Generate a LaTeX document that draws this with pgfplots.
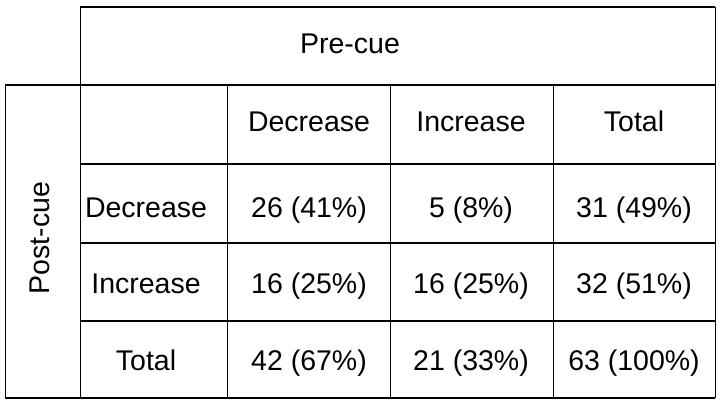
\documentclass[border=0pt]{standalone}
\usepackage{pgfplots}
\pgfplotsset{compat=1.18}
\usepackage{fontspec}
\setmainfont{Liberation Sans}
\begin{document}
\begin{tikzpicture}
\begin{axis}[
  width=720pt, height=408pt, scale only axis,
  xmin=0, xmax=720, ymin=0, ymax=408,
  hide axis, clip=false,
  every axis plot/.append style={black, no markers},
  nodes={font=\fontsize{28.5}{33}\selectfont, anchor=base, inner sep=0pt},
]
% invisible frame to fix the page size
\addplot[draw=none] coordinates {(0,0) (720,408)};
% horizontal rules
\addplot[line width=1.8pt] coordinates {(80,401) (715,401)};
\addplot[line width=1.8pt] coordinates {(5,323) (715,323)};
\addplot[line width=1.8pt] coordinates {(80,244) (715,244)};
\addplot[line width=1.8pt] coordinates {(80,165) (715,165)};
\addplot[line width=1.8pt] coordinates {(80,87) (715,87)};
\addplot[line width=2pt] coordinates {(5,10) (715,10)};
% vertical rules
\addplot[line width=1pt] coordinates {(5,323) (5,10)};
\addplot[line width=1pt] coordinates {(80,401) (80,10)};
\addplot[line width=1pt] coordinates {(227,323) (227,10)};
\addplot[line width=1pt] coordinates {(390,323) (390,10)};
\addplot[line width=1pt] coordinates {(553,323) (553,10)};
\addplot[line width=1pt] coordinates {(715,401) (715,10)};
% text
\node at (axis cs:350,354) {Pre-cue};
\node[rotate=90, anchor=center] at (axis cs:40,170) {Post-cue};
\node at (axis cs:309,277) {Decrease};
\node at (axis cs:471,277) {Increase};
\node at (axis cs:634,277) {Total};
\node at (axis cs:146,191) {Decrease};
\node at (axis cs:146,115) {Increase};
\node at (axis cs:146,38) {Total};
\node at (axis cs:309,191) {26 (41\%)};
\node at (axis cs:471,191) {5 (8\%)};
\node at (axis cs:634,191) {31 (49\%)};
\node at (axis cs:309,115) {16 (25\%)};
\node at (axis cs:471,115) {16 (25\%)};
\node at (axis cs:634,115) {32 (51\%)};
\node at (axis cs:309,38) {42 (67\%)};
\node at (axis cs:471,38) {21 (33\%)};
\node at (axis cs:634,38) {63 (100\%)};
\end{axis}
\end{tikzpicture}
\end{document}
